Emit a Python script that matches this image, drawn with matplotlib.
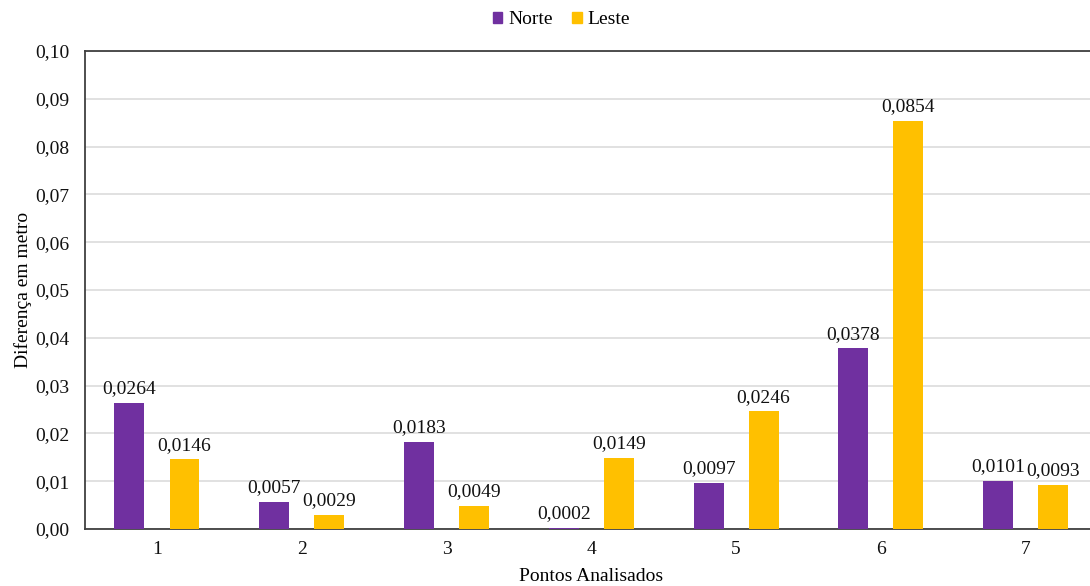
import matplotlib
matplotlib.use("Agg")
import matplotlib.pyplot as plt
from matplotlib.patches import Patch
import numpy as np

# Data
pontos = ["1", "2", "3", "4", "5", "6", "7"]
norte = [0.0264, 0.0057, 0.0183, 0.0002, 0.0097, 0.0378, 0.0101]
leste = [0.0146, 0.0029, 0.0049, 0.0149, 0.0246, 0.0854, 0.0093]
y_ticks = [0.00, 0.01, 0.02, 0.03, 0.04, 0.05, 0.06, 0.07, 0.08, 0.09, 0.10]

cor_norte = "#7030A0"
cor_leste = "#FFC000"

plt.rcParams["font.family"] = ["Liberation Serif", "DejaVu Serif"]

fig = plt.figure(figsize=(10.9, 5.86), dpi=100)
ax = fig.add_axes([84.6 / 1090, 57 / 586, 1013.4 / 1090, 478 / 586])

x = np.arange(len(pontos))
w = 0.207
off = 0.19
b1 = ax.bar(x - off, norte, w, color=cor_norte, zorder=3)
b2 = ax.bar(x + off, leste, w, color=cor_leste, zorder=3)

def fmt(v):
    return f"{v:.4f}".replace(".", ",")

for bars, vals in ((b1, norte), (b2, leste)):
    for rect, v in zip(bars, vals):
        ax.annotate(fmt(v), (rect.get_x() + rect.get_width() / 2, v),
                    xytext=(0, 4), textcoords="offset points",
                    ha="center", va="bottom", fontsize=14, color="#111111")

ax.set_xlim(-0.5, 6.5)
ax.set_ylim(0, 0.10)
ax.set_xticks(x)
ax.set_xticklabels(pontos)
ax.set_yticks(y_ticks)
ax.set_yticklabels([f"{t:.2f}".replace(".", ",") for t in y_ticks])
ax.tick_params(axis="both", length=0, labelsize=14, colors="#111111")
ax.tick_params(axis="y", pad=11)
ax.tick_params(axis="x", pad=9)

ax.grid(axis="y", color="#D9D9D9", linewidth=1.1, zorder=0)
for s in ("left", "bottom", "top"):
    ax.spines[s].set_color("#404040")
    ax.spines[s].set_linewidth(1.3)
ax.spines["right"].set_visible(False)

ax.set_ylabel("Diferença em metro", fontsize=14, labelpad=2)
ax.set_xlabel("Pontos Analisados", fontsize=14, labelpad=7)

handles = [Patch(color=cor_norte, label="Norte"), Patch(color=cor_leste, label="Leste")]
fig.legend(handles=handles, loc="center", bbox_to_anchor=(0.515, 1 - 20 / 586),
           ncol=2, frameon=False, fontsize=14, handlelength=0.5, handleheight=0.5,
           handletextpad=0.3, columnspacing=1.0)

fig.savefig("out.png", dpi=100)
